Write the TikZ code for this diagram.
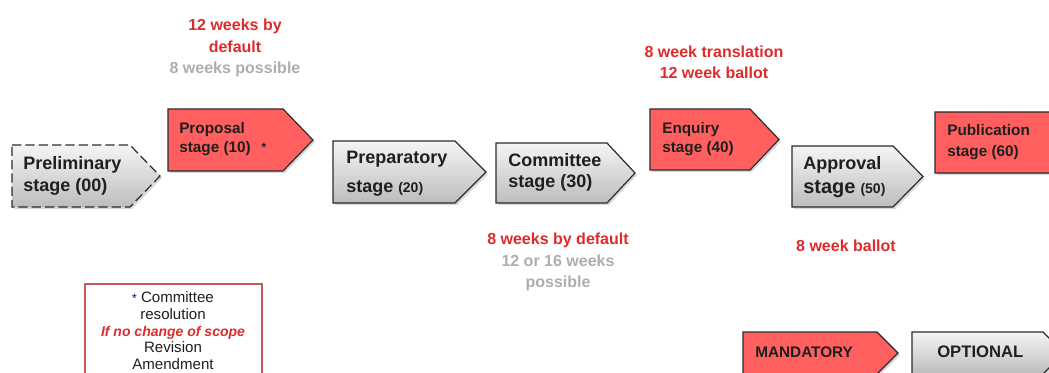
\documentclass[tikz,border=0pt]{standalone}
\usepackage{fontspec}
\setmainfont{Liberation Sans}
\definecolor{redfill}{HTML}{FF5F5F}
\definecolor{redtext}{HTML}{DD2B2B}
\definecolor{graytext}{HTML}{ADADAD}
\definecolor{edgec}{HTML}{2B2B2B}
\definecolor{notered}{HTML}{C65A5A}
\newcommand\pentpath[5]{(#1,#2) -- (#3,#2) -- (#4,{(#2+#5)/2}) -- (#3,#5) -- (#1,#5) -- cycle}
\newcommand\fsz[2]{\fontsize{#1}{#2}\selectfont}
\tikzset{
  mand/.style={fill=redfill, draw=edgec, line width=0.9pt},
  opt/.style={top color=black!4, bottom color=black!26, draw=edgec, line width=0.9pt},
  shadowed/.style={fill=black, opacity=0.15},
  lbl/.style={anchor=west, inner sep=0pt, align=left, text=black!88},
  ann/.style={inner sep=0pt, align=center, font=\bfseries\fsz{12}{16}},
}
\begin{document}
\begin{tikzpicture}[x=0.75pt,y=-0.75pt]
\useasboundingbox (0,0) rectangle (1049,372);
% shadows
\begin{scope}[xshift=1.5pt,yshift=-1.5pt]
\fill[shadowed] \pentpath{12}{145}{130}{160}{207};
\fill[shadowed] \pentpath{168}{109}{283}{313}{171};
\fill[shadowed] \pentpath{333}{141}{455}{486}{203};
\fill[shadowed] \pentpath{496}{143}{607}{635}{203};
\fill[shadowed] \pentpath{650}{109}{750}{779}{170};
\fill[shadowed] \pentpath{792}{146}{893}{923}{207};
\fill[shadowed] \pentpath{935}{112}{1075}{1100}{173};
\fill[shadowed] \pentpath{743}{332}{877}{898}{374};
\fill[shadowed] \pentpath{912}{332}{1043}{1064}{374};
\end{scope}
% stage shapes
\path[opt, dash pattern=on 7pt off 3pt] \pentpath{12}{145}{130}{160}{207};
\path[mand] \pentpath{168}{109}{283}{313}{171};
\path[opt] \pentpath{333}{141}{455}{486}{203};
\path[opt] \pentpath{496}{143}{607}{635}{203};
\path[mand] \pentpath{650}{109}{750}{779}{170};
\path[opt] \pentpath{792}{146}{893}{923}{207};
\path[mand] \pentpath{935}{112}{1075}{1100}{173};
\path[mand] \pentpath{743}{332}{877}{898}{374};
\path[opt] \pentpath{912}{332}{1043}{1064}{374};
% note box
\draw[notered, line width=1.8pt, fill=white] (85,284) rectangle (262,392);
% stage labels
\node[lbl, font=\bfseries\fsz{13.5}{16.5}] (prelim) at (23,176) {Preliminary\\stage (00)};
\node[lbl, font=\bfseries\fsz{11.5}{14.25}] (prop) at (179,139.5) {Proposal\\stage (10)\hspace{8pt}\raisebox{1pt}{\fsz{9}{10}*}};
\node[lbl, font=\bfseries\fsz{13.5}{21.75}] (prep) at (346,173.5) {Preparatory\\stage {\fsz{10.5}{12}(20)}};
\node[lbl, font=\bfseries\fsz{13.5}{15.75}] (comm) at (508,172.5) {Committee\\stage (30)};
\node[lbl, font=\bfseries\fsz{11.5}{14.25}] (enq) at (662,139.5) {Enquiry\\stage (40)};
\node[lbl, font=\bfseries\fsz{13.5}{18}] (appr) at (803,177) {Approval\\{\fsz{15}{18}stage} {\fsz{10.5}{12}(50)}};
\node[lbl, font=\bfseries\fsz{11.5}{15.75}] (pub) at (947,142.5) {Publication\\stage (60)};
\node[lbl, font=\bfseries\fsz{11.5}{14}] (mandl) at (755,352) {MANDATORY};
\node[lbl, font=\bfseries\fsz{12.5}{14}] (optl) at (937,352) {OPTIONAL};
% annotations
\node[ann, text=redtext] (a10) at (235,48) {12 weeks by\\default\\\textcolor{graytext}{8 weeks possible}};
\node[ann, text=redtext] (a40) at (714,62.5) {8 week translation\\12 week ballot};
\node[ann, text=redtext] (a30) at (558,262) {8 weeks by default\\\textcolor{graytext}{12 or 16 weeks}\\\textcolor{graytext}{possible}};
\node[ann, text=redtext] (a50) at (846,246) {8 week ballot};
% note text
\node[inner sep=0pt, align=center, font=\fsz{11.3}{12.5}, text=black!88, anchor=north] (note) at (173,291.5)
  {{\fsz{9}{10}\textcolor{blue!50!black}{*}} Committee\\resolution\\{\color{redtext}\bfseries\itshape\fsz{10.5}{12.5}If no change of scope}\\Revision\\Amendment};
\end{tikzpicture}
\end{document}
